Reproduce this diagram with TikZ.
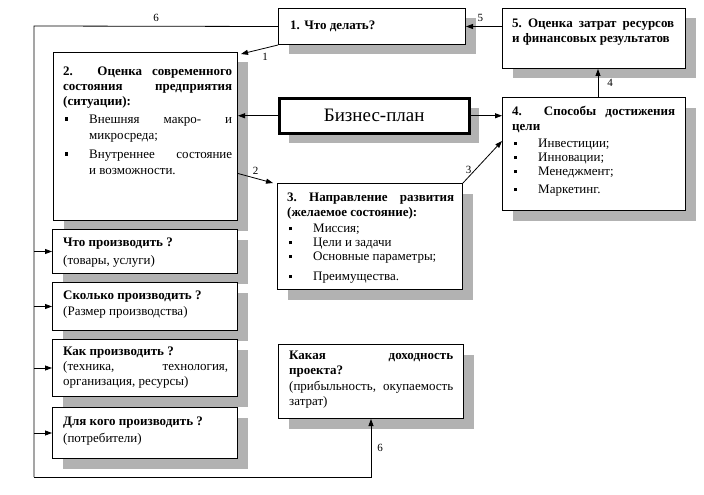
\documentclass[tikz,border=0pt]{standalone}
\usepackage{fontspec}
\setmainfont{Liberation Serif}
\usetikzlibrary{arrows.meta,shadows,calc}
\newcommand\bitem[1]{\par\noindent\hangindent=26pt\hangafter=1\makebox[26pt][l]{\hspace{1.5pt}\rule[2.5pt]{3.5pt}{3.5pt}}#1\par}
\begin{document}
\hyphenpenalty=10000
\begin{tikzpicture}[x=1pt,y=-1pt,
  box/.style={draw, line width=1pt, fill=white, inner sep=0, anchor=north west,
    drop shadow={shadow xshift=10pt,shadow yshift=-10pt,fill=black!30,opacity=1}},
  txt/.style={anchor=north west, inner sep=0, align=justify, font=\fontsize{13}{15}\selectfont},
  arr/.style={line width=0.8pt, -{Triangle[length=7pt,width=5pt]}},
  ln/.style={line width=0.8pt},
  lbl/.style={font=\fontsize{11}{13}\selectfont, inner sep=1pt}]
\useasboundingbox (0,0) rectangle (704,495);
\fill[white] (0,0) rectangle (704,495);

% boxes
\node[box, minimum width=187pt, minimum height=36pt] (b1) at (278,8) {};
\node[box, minimum width=183pt, minimum height=60pt] (b5) at (502,8) {};
\node[box, line width=2.5pt, minimum width=190pt, minimum height=35pt, font=\fontsize{19}{22}\selectfont] (bp) at (278,97) {Бизнес-план};
\node[box, minimum width=183pt, minimum height=113pt] (b4) at (502,97) {};
\node[box, minimum width=184pt, minimum height=168pt] (b2) at (53,52) {};
\node[box, minimum width=185pt, minimum height=106pt] (b3) at (277,183) {};
\node[box, minimum width=185pt, minimum height=44pt] (q1) at (52,229) {};
\node[box, minimum width=185pt, minimum height=48pt] (q2) at (52,282) {};
\node[box, minimum width=185pt, minimum height=57pt] (q3) at (52,339) {};
\node[box, minimum width=185pt, minimum height=51pt] (q4) at (52,407) {};
\node[box, minimum width=185pt, minimum height=74pt] (b7) at (278,344) {};

% texts
\node[txt, anchor=west] (t1) at ($(b1.west)+(12,0)$) {\textbf{1. Что делать?}};
\node[txt, text width=162pt] (t5) at ($(b5.north west)+(10,11)$)
  {\textbf{5.\ Оценка затрат ресурсов\linebreak и финансовых результатов}};
\node[txt, text width=169pt] (t2) at ($(b2.north west)+(10,15)$)
  {\textbf{2. Оценка современного\linebreak состояния предприятия\linebreak (ситуации):}
   \par\vspace{1.5pt}\fontsize{13}{16}\selectfont
   \bitem{Внешняя макро- и\linebreak микросреда;}
   \vspace{3pt}\bitem{Внутреннее состояние\linebreak и возможности.}};
\node[txt, text width=163pt] (t4) at ($(b4.north west)+(10,9)$)
  {\textbf{4. Способы достижения\linebreak цели}
   \par\vspace{2pt}
   \bitem{Инвестиции;}
   \vspace{-1pt}\bitem{Инновации;}
   \vspace{-1pt}\bitem{Менеджмент;}
   \vspace{3pt}\bitem{Маркетинг.}};
\node[txt, text width=167pt] (t3) at ($(b3.north west)+(10,10)$)
  {\textbf{3.\ Направление развития\linebreak (желаемое состояние):}
   \par\vspace{1pt}
   \bitem{Миссия;}
   \vspace{-1pt}\bitem{Цели и задачи}
   \vspace{-1pt}\bitem{Основные параметры;}
   \vspace{5pt}\bitem{Преимущества.}};
\node[txt, text width=167pt] (tq1) at ($(q1.north west)+(11,9)$)
  {\textbf{Что производить ?}\par\vspace{3pt} (товары, услуги)};
\node[txt, text width=167pt] (tq2) at ($(q2.north west)+(11,9)$)
  {\textbf{Сколько производить ?}\par\vspace{1pt} (Размер производства)};
\node[txt, text width=165pt] (tq3) at ($(q3.north west)+(11,8)$)
  {\textbf{Как производить ?}\par (техника, технология,\linebreak организация, ресурсы)};
\node[txt, text width=167pt] (tq4) at ($(q4.north west)+(11,10)$)
  {\textbf{Для кого производить ?}\par\vspace{2pt} (потребители)};
\node[txt, text width=164pt] (t7) at ($(b7.north west)+(11,7)$)
  {\textbf{Какая доходность\linebreak проекта?}\par\vspace{1pt} (прибыльность, окупаемость\linebreak затрат)};

% connectors
\draw[arr] (b1.south west) -- node[lbl, pos=0.35, below=4pt] {1} ([shift={(3,2)}]b2.north east);
\draw[arr] ([yshift=-37pt]b2.east) -- node[lbl, pos=0.5, above=2pt] {2} ([shift={(-4,0)}]b3.north west);
\draw[arr] (b3.north east) -- node[lbl, pos=0.3, left=2pt] {3} ([yshift=13pt]b4.west);
\draw[arr] (bp.west) -- (bp.west -| b2.east);
\draw[arr] (bp.east) -- (bp.east -| b4.west);
\draw[arr] ([xshift=4pt]b4.north) -- node[lbl, right=8pt] {4} ([xshift=4pt]b5.south);
\draw[arr] (b5.west |- b1.east) -- node[lbl, pos=0.6, above=3pt] {5} (b1.east);

\coordinate (fbtop) at (34,26);
\coordinate (fbbot) at (34,477);
\draw[ln] (b1.west) -- node[lbl, pos=0.5, above=3pt] {6} (fbtop) -- (fbbot);
\draw[arr] (fbbot) -| node[lbl, pos=0.75, right=5pt] {6} (b7.south);
\draw[arr] (fbtop |- q1.west) -- (q1.west);
\draw[arr] (fbtop |- q2.west) -- (q2.west);
\draw[arr] (fbtop |- q3.west) -- (q3.west);
\draw[arr] (fbtop |- q4.west) -- (q4.west);
\end{tikzpicture}
\end{document}
